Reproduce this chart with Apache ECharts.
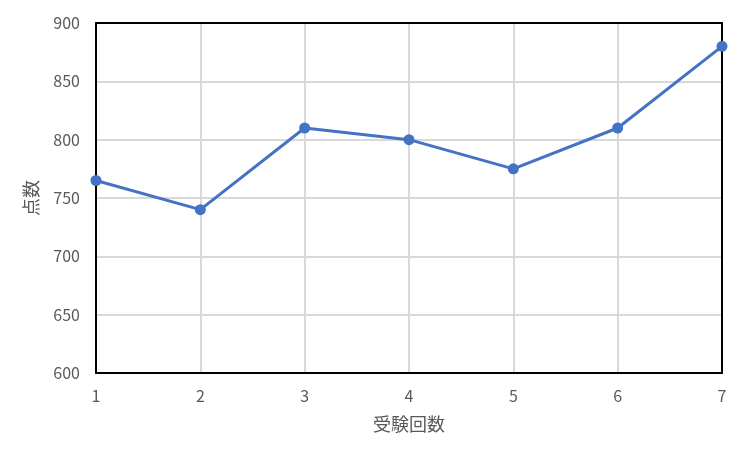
<!DOCTYPE html>
<html lang="ja">
<head>
    <meta charset="UTF-8">
    <title>受験回数と点数</title>
    <script src="https://cdn.jsdelivr.net/npm/echarts@6/dist/echarts.min.js"></script>
    <style>
        html, body { margin: 0; padding: 0; background: #fff; }
    </style>
</head>
<body>
    <div id="main" style="width: 750px;height:450px;"></div>
    <script type="text/javascript">
        // データ
        var attempts = ['1', '2', '3', '4', '5', '6', '7'];
        var scores = [765, 740, 810, 800, 775, 810, 880];
        var yMin = 600, yMax = 900, yStep = 50;

        var font = '"Noto Sans CJK JP", "Noto Sans", sans-serif';
        var labelStyle = { color: '#595959', fontSize: 16, fontFamily: font };
        var myChart = echarts.init(document.getElementById('main'));
        myChart.setOption({
            animation: false,
            grid: { left: 96, right: 28, top: 23, bottom: 77 },
            xAxis: [{
                type: 'category',
                data: attempts,
                boundaryGap: false,
                name: '受験回数',
                nameLocation: 'middle',
                nameGap: 42,
                nameTextStyle: { color: '#595959', fontSize: 18, fontFamily: font },
                axisLine: { lineStyle: { color: '#000', width: 2 } },
                axisTick: { show: false },
                axisLabel: Object.assign({ margin: 15 }, labelStyle),
                splitLine: { show: true, lineStyle: { color: '#d9d9d9', width: 2 } }
            }, {
                // 上側の枠線
                type: 'category',
                data: attempts,
                boundaryGap: false,
                position: 'top',
                axisLine: { lineStyle: { color: '#000', width: 2 } },
                axisTick: { show: false },
                axisLabel: { show: false },
                splitLine: { show: false }
            }],
            yAxis: [{
                type: 'value',
                min: yMin, max: yMax, interval: yStep,
                name: '点数',
                nameLocation: 'middle',
                nameGap: 56,
                nameTextStyle: { color: '#595959', fontSize: 18, fontFamily: font },
                axisLine: { show: true, lineStyle: { color: '#000', width: 2 } },
                axisTick: { show: false },
                axisLabel: Object.assign({ margin: 16 }, labelStyle),
                splitLine: { lineStyle: { color: '#d9d9d9', width: 2 } }
            }, {
                // 右側の枠線
                type: 'value',
                min: yMin, max: yMax, interval: yStep,
                position: 'right',
                axisLine: { show: true, lineStyle: { color: '#000', width: 2 } },
                axisTick: { show: false },
                axisLabel: { show: false },
                splitLine: { show: false }
            }],
            series: [{
                type: 'line',
                data: scores,
                symbol: 'circle',
                symbolSize: 11,
                itemStyle: { color: '#4472C4' },
                lineStyle: { color: '#4472C4', width: 3 }
            }]
        });
    </script>
</body>
</html>
